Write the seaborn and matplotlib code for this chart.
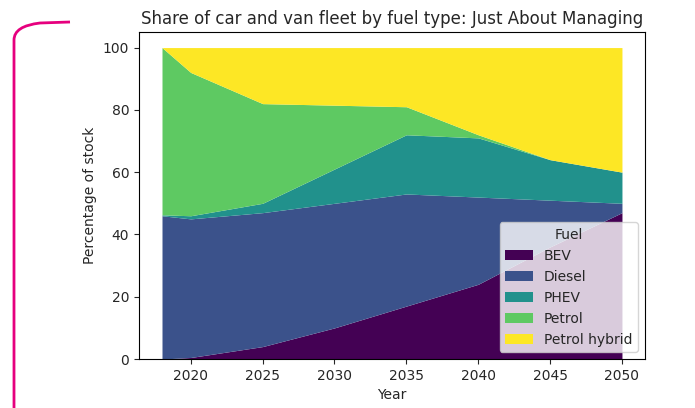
import numpy as np
import matplotlib
matplotlib.use("Agg")
import matplotlib.pyplot as plt
from matplotlib.path import Path
from matplotlib.patches import PathPatch
import seaborn as sns

# share of stock (%)
years = [2018, 2020, 2025, 2030, 2035, 2040, 2045, 2050]
fuels = ["BEV", "Diesel", "PHEV", "Petrol", "Petrol hybrid"]
bev = [0, 0.5, 4, 10, 17, 24, 36, 47]
diesel = [46, 44.5, 43, 40, 36, 28, 15, 3]
phev = [0.3, 1, 3, 11, 19, 19, 13, 10]
petrol = [53.7, 46, 32, 20.5, 9, 1, 0, 0]
petrol_hybrid = [0, 8, 18, 18.5, 19, 28, 36, 40]

sns.set_style("ticks")
plt.rcParams["font.family"] = ["DejaVu Sans"]

cmap = sns.color_palette("viridis", as_cmap=True)
colors = [cmap(v) for v in np.linspace(0, 1, len(fuels))]

fig = plt.figure(figsize=(6.95, 4.08), dpi=100)
ax = fig.add_axes([0.2, 0.12, 0.728, 0.8016])

ax.stackplot(years, bev, diesel, phev, petrol, petrol_hybrid,
             labels=fuels, colors=colors, linewidth=0)
ax.margins(x=0.05, y=0.05)
ax.set_ylim(0, 105)
ax.set_xticks(range(2020, 2051, 5))
ax.set_yticks(range(0, 101, 20))
ax.tick_params(labelsize=10)
for s in ax.spines.values():
    s.set_color("black")
    s.set_linewidth(0.8)

ax.set_title("Share of car and van fleet by fuel type: Just About Managing", fontsize=12)
ax.set_xlabel("Year", fontsize=10)
ax.set_ylabel("Percentage of stock", fontsize=10)
ax.legend(title="Fuel", loc="lower right", fontsize=10, title_fontsize=10,
          frameon=True, framealpha=0.8)

# magenta bracket on the left margin
verts = [(14, 408), (14, 40), (14, 26), (40, 23), (70, 22)]
path = Path([(x, 408 - y) for x, y in verts],
            [Path.MOVETO, Path.LINETO, Path.CURVE3, Path.CURVE3, Path.LINETO])
fig.add_artist(PathPatch(path, transform=None, fill=False,
                         edgecolor="#e6007e", linewidth=2))

fig.savefig("out.png", dpi=100)
